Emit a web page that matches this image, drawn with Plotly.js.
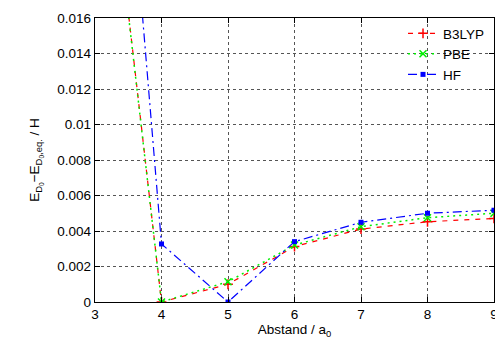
<!DOCTYPE html>
<html><head><meta charset="utf-8">
<script src="https://cdn.plot.ly/plotly-3.0.1.min.js"></script>
<style>html,body{margin:0;padding:0;background:#fff}</style>
</head><body>
<div id="chart" style="width:495px;height:343px"></div>
<script>
const xVals = [3, 4, 5, 6, 7, 8, 9];
const b3lyp = [0.0327, 0.0, 0.0010, 0.00312, 0.00411, 0.00452, 0.00471];
const pbe   = [0.0325, 0.0, 0.00114, 0.00321, 0.00424, 0.00475, 0.0050];
const hf    = [0.0482, 0.00327, 0.0, 0.0034, 0.00449, 0.0050, 0.00517];
const names = ['B3LYP', 'PBE', 'HF'];

const traces = [
  {x: xVals, y: b3lyp, name: names[0], mode: 'lines+markers',
   line: {color: '#ff0000', dash: '5px,6px', width: 1.2},
   marker: {symbol: 'cross-thin', size: 7, color: '#ff0000', line: {color: '#ff0000', width: 1.5}}},
  {x: xVals, y: pbe, name: names[1], mode: 'lines+markers',
   line: {color: '#00ee00', dash: '2px,4px', width: 1.5},
   marker: {symbol: 'x-thin', size: 7, color: '#00ee00', line: {color: '#00ee00', width: 1.5}}},
  {x: xVals, y: hf, name: names[2], mode: 'lines+markers',
   line: {color: '#0000ff', dash: '9px,4px,2px,4px', width: 1.2},
   marker: {symbol: 'square', size: 5, color: '#0000ff'}}
];

const axisCommon = {
  showline: true, linecolor: '#000', linewidth: 1.2, mirror: 'allticks',
  ticks: 'inside', ticklen: 5, tickcolor: '#000',
  showgrid: true, gridcolor: '#555', griddash: 'dot', gridwidth: 1,
  zeroline: false, tickfont: {family: 'Liberation Sans, Arial, sans-serif', size: 13.5, color: '#000'}
};

const layout = {
  width: 495, height: 343,
  margin: {l: 95, r: 1, t: 18, b: 41},
  paper_bgcolor: '#fff', plot_bgcolor: '#fff',
  font: {family: 'Liberation Sans, Arial, sans-serif', size: 13.5, color: '#000'},
  xaxis: Object.assign({}, axisCommon, {range: [2.9999, 9.0001], dtick: 1, tick0: 3, ticklabeloverflow: 'allow',
    title: {text: 'Abstand / a<sub>0</sub>', font: {size: 13.5}, standoff: 2}}),
  yaxis: Object.assign({}, axisCommon, {range: [0, 0.016], dtick: 0.002, tick0: 0,
    title: {text: 'E<sub>D<sub>0</sub></sub>−E<sub>D<sub>0</sub>,eq.</sub> / H', font: {size: 13.5}, standoff: 14}}),
  showlegend: true,
  legend: {x: 0.99, y: 1.0, xanchor: 'right', yanchor: 'top', bgcolor: 'rgba(255,255,255,0)',
    font: {size: 13.5}, tracegroupgap: 0, itemwidth: 30},
};

Plotly.newPlot('chart', traces, layout, {displayModeBar: false, staticPlot: true});
</script>
</body></html>
